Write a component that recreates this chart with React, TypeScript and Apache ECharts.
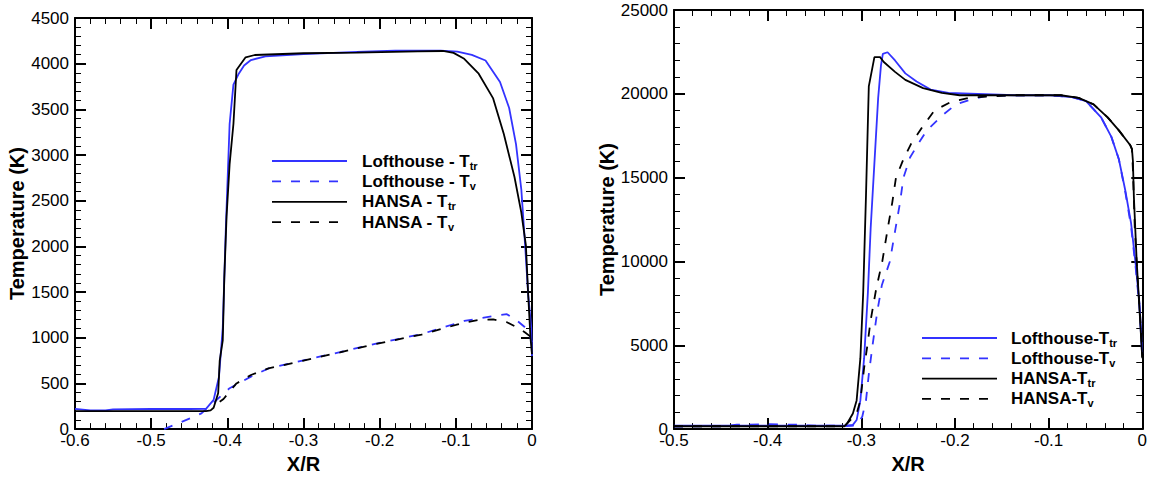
import React, { useEffect, useRef } from "react";
import * as echarts from "echarts";

// ---- Left panel: X/R in [-0.6, 0], temperature up to 4500 K ----
const leftXTicks = { min: -0.6, max: 0, interval: 0.1 };
const leftYTicks = { min: 0, max: 4500, interval: 500 };

const leftLofthouseTtr: [number, number][] = [
  [-0.6, 222], [-0.58, 205], [-0.56, 205], [-0.55, 215], [-0.5, 220], [-0.45, 220],
  [-0.428, 222], [-0.418, 320], [-0.411, 570], [-0.406, 1110], [-0.402, 2190],
  [-0.397, 3340], [-0.392, 3770], [-0.385, 3890], [-0.378, 3980], [-0.369, 4040],
  [-0.35, 4080], [-0.3, 4105], [-0.23, 4130], [-0.18, 4142], [-0.12, 4143],
  [-0.098, 4132], [-0.079, 4096], [-0.061, 4035], [-0.042, 3800], [-0.03, 3515],
  [-0.021, 3120], [-0.014, 2620], [-0.009, 2010], [-0.005, 1470], [-0.001, 1110], [0, 800],
];
const leftLofthouseTv: [number, number][] = [
  [-0.483, 0], [-0.462, 72], [-0.434, 172], [-0.416, 305], [-0.397, 448], [-0.369, 574],
  [-0.346, 664], [-0.3, 753], [-0.252, 843], [-0.206, 933], [-0.145, 1040], [-0.089, 1184],
  [-0.051, 1237], [-0.033, 1258], [-0.02, 1190], [-0.01, 1120], [-0.004, 1050], [0, 950],
];
const leftHansaTtr: [number, number][] = [
  [-0.6, 197], [-0.5, 197], [-0.428, 197], [-0.422, 205], [-0.418, 233], [-0.412, 395],
  [-0.41, 750], [-0.406, 970], [-0.404, 1650], [-0.401, 2330], [-0.397, 2900],
  [-0.392, 3340], [-0.388, 3930], [-0.376, 4070], [-0.364, 4095], [-0.3, 4114],
  [-0.23, 4120], [-0.15, 4135], [-0.117, 4139], [-0.103, 4118], [-0.089, 4053],
  [-0.07, 3890], [-0.051, 3620], [-0.037, 3230], [-0.023, 2760], [-0.014, 2370],
  [-0.008, 2010], [-0.005, 1470], [-0.002, 1000], [0, 820],
];
const leftHansaTv: [number, number][] = [
  [-0.41, 300], [-0.405, 330], [-0.397, 412], [-0.388, 500], [-0.369, 592], [-0.346, 664],
  [-0.3, 750], [-0.252, 840], [-0.206, 930], [-0.145, 1035], [-0.1, 1140], [-0.089, 1166],
  [-0.07, 1195], [-0.051, 1200], [-0.033, 1170], [-0.019, 1112], [-0.009, 1058], [0, 1000],
];

// ---- Right panel: X/R in [-0.5, 0], temperature up to 25000 K ----
const rightXTicks = { min: -0.5, max: 0, interval: 0.1 };
const rightYTicks = { min: 0, max: 25000, interval: 5000 };

const rightLofthouseTtr: [number, number][] = [
  [-0.5, 200], [-0.4, 200], [-0.315, 200], [-0.309, 250], [-0.305, 540], [-0.301, 1710],
  [-0.297, 4230], [-0.293, 8110], [-0.29, 12000], [-0.286, 15880], [-0.282, 19760],
  [-0.279, 21700], [-0.277, 22380], [-0.272, 22480], [-0.264, 21990], [-0.253, 21220],
  [-0.241, 20730], [-0.226, 20250], [-0.207, 20050], [-0.176, 19990], [-0.137, 19915],
  [-0.098, 19915], [-0.075, 19800], [-0.06, 19570], [-0.044, 18600], [-0.033, 17430],
  [-0.025, 16100], [-0.018, 14200], [-0.012, 12300], [-0.007, 9800], [-0.003, 7500], [0, 4500],
];
const rightLofthouseTv: [number, number][] = [
  [-0.5, 150], [-0.45, 170], [-0.433, 260], [-0.4, 290], [-0.368, 260], [-0.35, 200],
  [-0.31, 200], [-0.305, 250], [-0.299, 740], [-0.295, 1710], [-0.292, 3260], [-0.288, 5000],
  [-0.283, 7000], [-0.278, 8600], [-0.2695, 10000], [-0.264, 11800], [-0.259, 13400],
  [-0.255, 15000], [-0.248, 16200], [-0.239, 17040], [-0.23, 17820], [-0.214, 18690],
  [-0.199, 19370], [-0.183, 19660], [-0.168, 19860], [-0.137, 19915], [-0.098, 19915],
  [-0.075, 19800], [-0.06, 19570], [-0.044, 18600], [-0.033, 17430], [-0.025, 16100],
  [-0.018, 14100], [-0.012, 12100], [-0.007, 9600], [-0.003, 7300], [0, 4300],
];
const rightHansaTtr: [number, number][] = [
  [-0.5, 170], [-0.4, 170], [-0.318, 170], [-0.315, 350], [-0.309, 930], [-0.305, 1710],
  [-0.301, 4230], [-0.298, 8110], [-0.295, 13940], [-0.292, 20440], [-0.286, 22190],
  [-0.28, 22190], [-0.276, 21900], [-0.264, 21310], [-0.253, 20830], [-0.234, 20340],
  [-0.214, 20050], [-0.195, 19915], [-0.137, 19915], [-0.087, 19915], [-0.068, 19760],
  [-0.052, 19370], [-0.037, 18600], [-0.025, 17820], [-0.013, 16950], [-0.011, 16700],
  [-0.01, 16000], [-0.009, 13900], [-0.006, 10050], [-0.002, 6200], [0, 4230],
];
const rightHansaTv: [number, number][] = [
  [-0.5, 170], [-0.318, 170], [-0.305, 930], [-0.301, 1710], [-0.297, 3650], [-0.2935, 5000],
  [-0.29, 6500], [-0.284, 8400], [-0.2776, 10000], [-0.272, 11900], [-0.267, 13500],
  [-0.263, 15000], [-0.255, 16100], [-0.247, 17000], [-0.235, 18000], [-0.222, 19000],
  [-0.205, 19500], [-0.185, 19760], [-0.16, 19860], [-0.137, 19915],
  [-0.087, 19915], [-0.068, 19760], [-0.052, 19370], [-0.037, 18600], [-0.025, 17820],
  [-0.013, 16950], [-0.011, 16700], [-0.01, 15500], [-0.008, 12000], [-0.005, 9000],
  [-0.002, 6500], [0, 4300],
];

// Legend entries: [series name, main text, subscript]
const leftLegend: [string, string, string][] = [
  ["Lofthouse - T_tr", "Lofthouse - T", "tr"],
  ["Lofthouse - T_v", "Lofthouse - T", "v"],
  ["HANSA - T_tr", "HANSA - T", "tr"],
  ["HANSA - T_v", "HANSA - T", "v"],
];
const rightLegend: [string, string, string][] = [
  ["Lofthouse-T_tr", "Lofthouse-T", "tr"],
  ["Lofthouse-T_v", "Lofthouse-T", "v"],
  ["HANSA-T_tr", "HANSA-T", "tr"],
  ["HANSA-T_v", "HANSA-T", "v"],
];

const FONT = "'Liberation Sans', Arial, Helvetica, sans-serif";
const BLUE = "#3333ff";
const BLACK = "#000000";
const DASH = [9, 10];
const LINE_WIDTH = 1.8;

// Style of each curve, in legend order: Lofthouse T_tr, Lofthouse T_v, HANSA T_tr, HANSA T_v
const curveStyles: { color: string; dashed: boolean }[] = [
  { color: BLUE, dashed: false },
  { color: BLUE, dashed: true },
  { color: BLACK, dashed: false },
  { color: BLACK, dashed: true },
];

function axis(
  dim: "x" | "y",
  gridIndex: number,
  ticks: { min: number; max: number; interval: number },
  mirror: boolean,
  name: string,
  nameGap: number
) {
  const fmt = (v: number) =>
    dim === "x" ? String(+v.toFixed(1)) : String(Math.round(v));
  return {
    type: "value",
    gridIndex,
    position: dim === "x" ? (mirror ? "top" : "bottom") : mirror ? "right" : "left",
    min: ticks.min,
    max: ticks.max,
    interval: ticks.interval,
    axisLine: { show: true, onZero: false, lineStyle: { color: BLACK, width: 2 } },
    axisTick: { show: true, inside: true, length: 11, lineStyle: { color: BLACK, width: 2 } },
    minorTick: { show: true, splitNumber: 5, length: 6, lineStyle: { color: BLACK, width: 1 } },
    splitLine: { show: false },
    minorSplitLine: { show: false },
    axisLabel: {
      show: !mirror,
      color: BLACK,
      fontSize: 17,
      fontFamily: FONT,
      margin: dim === "x" ? 3 : 6,
      formatter: fmt,
    },
    name: mirror ? "" : name,
    nameLocation: "middle",
    nameGap,
    nameTextStyle: { color: BLACK, fontSize: 20, fontWeight: "bold", fontFamily: FONT },
  };
}

function line(name: string, data: [number, number][], styleIndex: number, axisIndex: number) {
  const { color, dashed } = curveStyles[styleIndex];
  return {
    type: "line",
    name,
    data,
    xAxisIndex: axisIndex,
    yAxisIndex: axisIndex,
    symbol: "none",
    lineStyle: { color, width: LINE_WIDTH, type: dashed ? DASH : "solid" },
    itemStyle: { color },
    emphasis: { disabled: true },
  };
}

// Legend block: sample line followed by a label with a subscript
function legendBlock(
  entries: [string, string, string][],
  x1: number,
  x2: number,
  textX: number,
  y0: number,
  dy: number
) {
  const rich = {
    m: { fontFamily: FONT, fontSize: 17, fontWeight: "bold", fill: BLACK, lineHeight: 20 },
    s: {
      fontFamily: FONT,
      fontSize: 11,
      fontWeight: "bold",
      fill: BLACK,
      lineHeight: 5,
      verticalAlign: "bottom",
    },
  };
  const elements: any[] = [];
  entries.forEach(([, main, sub], i) => {
    const y = y0 + i * dy;
    const { color, dashed } = curveStyles[i];
    elements.push({
      type: "line",
      shape: { x1, y1: y, x2, y2: y },
      style: { stroke: color, lineWidth: LINE_WIDTH, lineDash: dashed ? DASH : null },
      silent: true,
    });
    elements.push({
      type: "text",
      x: textX,
      y,
      style: {
        text: `{m|${main}}{s|${sub}}`,
        rich,
        align: "left",
        verticalAlign: "middle",
        fill: BLACK,
      },
      silent: true,
    });
  });
  return elements;
}

export default function App() {
  const ref = useRef<HTMLDivElement>(null);

  useEffect(() => {
    document.body.style.margin = "0";
    const chart = echarts.init(ref.current!, undefined, { renderer: "svg" });
    chart.setOption({
      animation: false,
      backgroundColor: "#ffffff",
      grid: [
        { left: 75, top: 18, width: 457, height: 419 },
        { left: 674, top: 10, width: 471, height: 427 },
      ],
      xAxis: [
        axis("x", 0, leftXTicks, false, "X/R", 18),
        axis("x", 0, leftXTicks, true, "", 0),
        axis("x", 1, rightXTicks, false, "X/R", 20),
        axis("x", 1, rightXTicks, true, "", 0),
      ],
      yAxis: [
        axis("y", 0, leftYTicks, false, "Temperature (K)", 47),
        axis("y", 0, leftYTicks, true, "", 0),
        axis("y", 1, rightYTicks, false, "Temperature (K)", 54),
        axis("y", 1, rightYTicks, true, "", 0),
      ],
      graphic: [
        ...legendBlock(leftLegend, 272, 347, 362, 161, 20.4),
        ...legendBlock(rightLegend, 922, 997, 1011, 338, 20.3),
      ],
      series: [
        line(leftLegend[0][0], leftLofthouseTtr, 0, 0),
        line(leftLegend[1][0], leftLofthouseTv, 1, 0),
        line(leftLegend[2][0], leftHansaTtr, 2, 0),
        line(leftLegend[3][0], leftHansaTv, 3, 0),
        line(rightLegend[0][0], rightLofthouseTtr, 0, 2),
        line(rightLegend[1][0], rightLofthouseTv, 1, 2),
        line(rightLegend[2][0], rightHansaTtr, 2, 2),
        line(rightLegend[3][0], rightHansaTv, 3, 2),
      ],
    });
    return () => chart.dispose();
  }, []);

  return (
    <div
      ref={ref}
      style={{ position: "fixed", left: 0, top: 0, width: 1150, height: 479 }}
    />
  );
}
